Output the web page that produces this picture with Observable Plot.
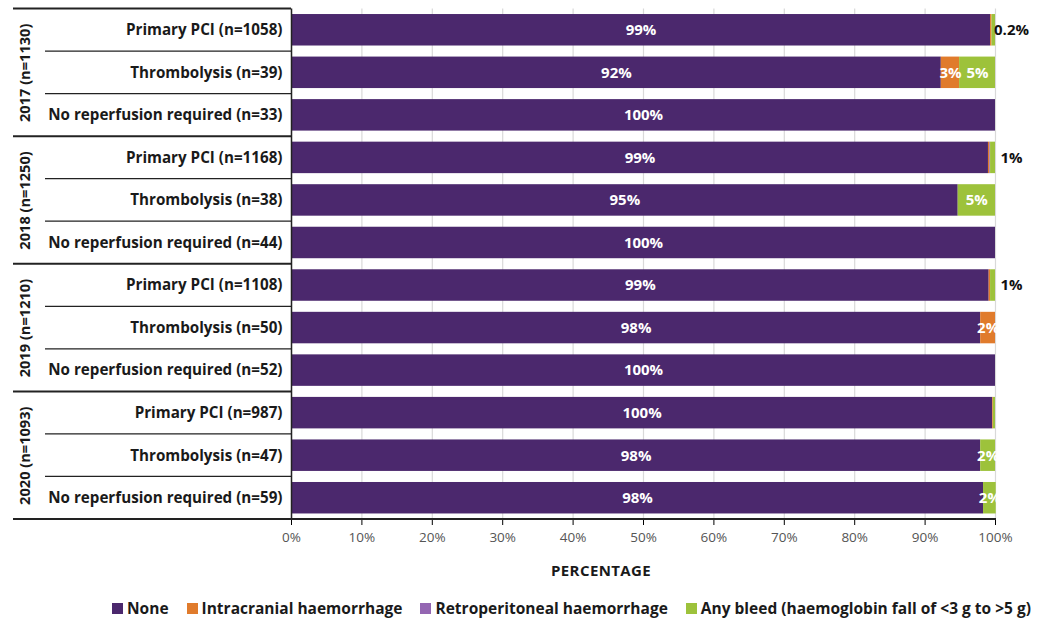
<!DOCTYPE html>
<html><head><meta charset="utf-8">
<script src="https://cdn.jsdelivr.net/npm/d3@7"></script>
<script src="https://cdn.jsdelivr.net/npm/@observablehq/plot@0.6"></script>
<style>
body{margin:0;background:#fff;font-family:"Open Sans", Lato, sans-serif;width:1040px;height:618px;overflow:hidden;}
#chart svg{display:block;}
#xlabel{position:absolute;left:0;top:556px;width:1040px;height:28px;line-height:28px;}
#xlabel span{position:absolute;left:551px;font-weight:700;font-size:15px;letter-spacing:0.4px;color:#1a1a1a;}
#legend{position:absolute;left:112px;top:598px;height:20px;line-height:20px;display:flex;gap:18px;font-weight:700;font-size:15.5px;color:#1a1a1a;white-space:nowrap;}
#legend .item{display:flex;align-items:center;gap:4px;}
#legend .sw{width:11px;height:11px;display:inline-block;}
</style></head><body>
<div id="chart"></div>
<div id="xlabel"><span>PERCENTAGE</span></div>
<div id="legend"></div>
<script>
const years = ["2017", "2018", "2019", "2020"];
const yearN = [1130, 1250, 1210, 1093];
const treatments = ["Primary PCI", "Thrombolysis", "No reperfusion required"];
const treatmentN = [1058, 39, 33, 1168, 38, 44, 1108, 50, 52, 987, 47, 59];
const types = ["None", "Intracranial haemorrhage", "Retroperitoneal haemorrhage", "Any bleed (haemoglobin fall of <3 g to >5 g)"];
const colors = ["#4b286d", "#e07b2c", "#9466b2", "#9dc23b"];

const noneVals   = [99.3, 92.3, 100, 99.0, 94.7, 100, 99.1, 97.9, 100, 99.6, 97.9, 98.3];
const ichVals    = [0.2, 2.6, 0, 0.2, 0, 0, 0.2, 2.1, 0, 0.1, 0, 0];
const retroVals  = [0, 0, 0, 0.1, 0, 0, 0, 0, 0, 0, 0, 0];
const anyVals    = [0.5, 5.1, 0, 0.7, 5.3, 0, 0.7, 0, 0, 0.3, 2.1, 1.8];

const noneLabels  = ["99%", "92%", "100%", "99%", "95%", "100%", "99%", "98%", "100%", "100%", "98%", "98%"];
const ichLabels   = ["", "3%", "", "", "", "", "", "2%", "", "", "", ""];
const retroLabels = ["", "", "", "", "", "", "", "", "", "", "", ""];
const anyLabels   = ["", "5%", "", "", "5%", "", "", "", "", "", "2%", "2%"];
const outsideLabels = ["0.2%", "", "", "1%", "", "", "1%", "", "", "", "", ""];

const series = [noneVals, ichVals, retroVals, anyVals];
const seriesLabels = [noneLabels, ichLabels, retroLabels, anyLabels];

const rows = [];
years.forEach((yr, g) => treatments.forEach((t, k) => {
  const i = g * 3 + k;
  rows.push({key: yr + " " + t, year: yr, label: `${t} (n=${treatmentN[i]})`, outside: outsideLabels[i], idx: i});
}));
const keys = rows.map(r => r.key);
const groups = years.map((yr, g) => ({mid: yr + " " + treatments[1], label: `${yr} (n=${yearN[g]})`}));
const long = rows.flatMap((r, i) => types.map((t, j) => ({key: r.key, type: t, value: series[j][i], label: seriesLabels[j][i]})));

const FONT = "'Open Sans', Lato, sans-serif";
const chart = Plot.plot({
  width: 1040, height: 556,
  marginLeft: 291, marginRight: 45, marginTop: 8.5, marginBottom: 37,
  style: {fontFamily: FONT, background: "white"},
  x: {domain: [0, 100], ticks: 10, tickFormat: d => d + "%"},
  y: {domain: keys, paddingInner: 0.26, paddingOuter: 0.13, round: false, axis: null},
  color: {domain: types, range: colors},
  marks: [
    Plot.gridX({ticks: 10, stroke: "#d9d9d9", strokeOpacity: 1, strokeWidth: 1.2}),
    Plot.barX(long, Plot.stackX({y: "key", x: "value", fill: "type", order: types})),
    Plot.text(long, Plot.stackX({y: "key", x: "value", z: "type", order: types, text: "label", fill: "white", fontWeight: 700, fontSize: 15})),
    Plot.text(rows, {y: "key", text: "outside", frameAnchor: "right", textAnchor: "middle", dx: 16, fontWeight: 700, fontSize: 15, fill: "#111"}),
    Plot.text(rows, {y: "key", text: "label", frameAnchor: "left", dx: -9, textAnchor: "end", fontWeight: 700, fontSize: 15.2, fill: "#1a1a1a"}),
    Plot.text(groups, {y: "mid", text: "label", frameAnchor: "left", textAnchor: "middle", dx: -266, rotate: -90, fontWeight: 700, fontSize: 14.6, fill: "#1a1a1a"}),
    Plot.axisX({tickSize: 6, tickPadding: 7, fontSize: 13.5, fill: "#555", label: null, tickFormat: d => d + "%"}),
    Plot.ruleX([0], {stroke: "#222", strokeWidth: 1.5})
  ]
});

// hierarchical row/group separators in the left axis area, from the y scale
const ys = chart.scale("y");
const xs = chart.scale("x");
const svg = d3.select(chart);
const gap = (ys.step - ys.bandwidth) / 2;
const x0 = xs.apply(0);
const lines = svg.append("g");
rows.forEach((r, i) => {
  const top = ys.apply(r.key) - gap;
  const isGroup = i % 3 === 0;
  lines.append("line")
    .attr("x1", isGroup ? 13 : 45).attr("x2", x0)
    .attr("y1", top).attr("y2", top)
    .attr("stroke", "#222").attr("stroke-width", isGroup ? 2 : 1.2);
});
const bottom = ys.apply(keys[keys.length - 1]) + ys.bandwidth + gap;
lines.append("line").attr("x1", 13).attr("x2", xs.apply(100) + 1)
  .attr("y1", bottom).attr("y2", bottom).attr("stroke", "#222").attr("stroke-width", 2);

document.getElementById("chart").appendChild(chart);

const legend = document.getElementById("legend");
types.forEach((t, j) => {
  const it = document.createElement("div");
  it.className = "item";
  const sw = document.createElement("span");
  sw.className = "sw";
  sw.style.background = colors[j];
  const tx = document.createElement("span");
  tx.textContent = t;
  it.appendChild(sw); it.appendChild(tx);
  legend.appendChild(it);
});
</script>
</body></html>
